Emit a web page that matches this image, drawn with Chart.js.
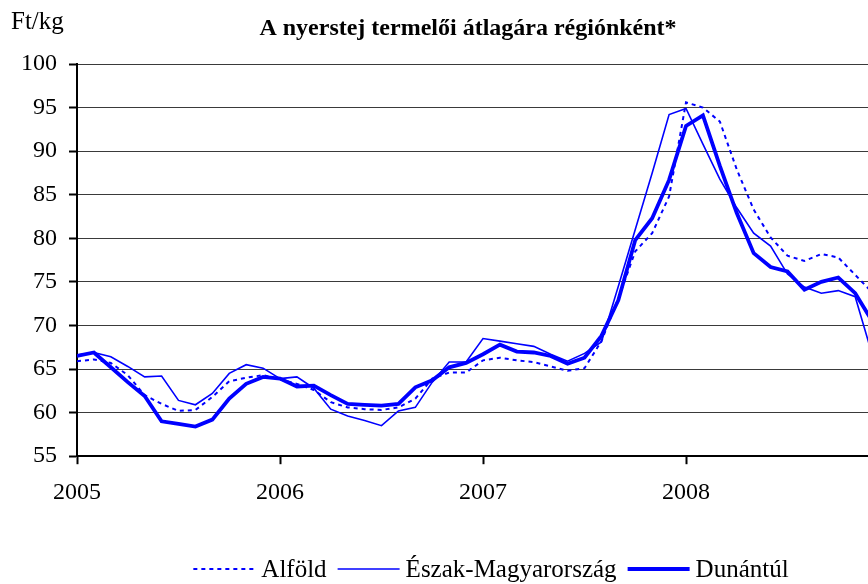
<!DOCTYPE html>
<html>
<head>
<meta charset="utf-8">
<script src="https://cdn.jsdelivr.net/npm/chart.js@4/dist/chart.umd.min.js"></script>
<style>
  html, body { margin: 0; padding: 0; background: #fff; overflow: hidden; }
  #wrap { width: 980px; height: 584px; }
</style>
</head>
<body>
<div id="wrap"><canvas id="milkChart" width="980" height="584"></canvas></div>
<script>
/* ─── Data (monthly, Jan 2005 – Dec 2008) ─────────────────────────────────── */
const yearLabels = ['2005', '2006', '2007', '2008'];
const seriesNames = ['Alföld', 'Észak-Magyarország', 'Dunántúl'];

const alfold = [
  65.9, 66.1, 65.7, 64.3, 62.0, 61.0, 60.2, 60.3, 61.8, 63.6, 64.0, 64.3,
  63.8, 63.3, 62.6, 61.2, 60.6, 60.4, 60.3, 60.6, 61.6, 63.9, 64.6, 64.6,
  66.0, 66.3, 66.0, 65.8, 65.3, 64.8, 65.1, 68.2, 73.1, 78.5, 80.6, 84.8,
  95.6, 95.0, 93.4, 87.9, 83.3, 80.1, 78.0, 77.4, 78.2, 77.8, 75.8, 73.8
];
const eszak = [
  66.6, 66.9, 66.4, 65.3, 64.1, 64.2, 61.4, 60.9, 62.2, 64.5, 65.5, 65.1,
  63.9, 64.1, 62.8, 60.4, 59.6, 59.1, 58.5, 60.2, 60.6, 63.5, 65.8, 65.8,
  68.5, 68.2, 67.9, 67.6, 66.7, 65.9, 66.8, 68.1, 74.5, 81.0, 87.5, 94.2,
  94.9, 90.8, 86.8, 83.5, 80.6, 79.1, 75.9, 74.4, 73.7, 74.0, 73.3, 66.7
];
const dunantul = [
  66.5, 66.9, 65.2, 63.5, 61.9, 59.0, 58.7, 58.4, 59.2, 61.6, 63.3, 64.1,
  63.9, 63.0, 63.1, 62.0, 61.0, 60.9, 60.8, 61.0, 62.9, 63.7, 65.2, 65.7,
  66.7, 67.8, 67.0, 66.9, 66.5, 65.6, 66.3, 68.8, 72.9, 79.8, 82.3, 86.7,
  92.9, 94.1, 88.3, 82.9, 78.3, 76.7, 76.2, 74.1, 75.0, 75.5, 73.7, 70.5
];

const yMin = 55, yMax = 100, yStep = 5;
const chartTitle = 'A nyerstej termelői átlagára régiónként*';
const unitLabel = 'Ft/kg';

/* ─── Helpers ─────────────────────────────────────────────────────────────── */
const toPoints = arr => arr.map((v, i) => ({ x: i, y: v }));
const serif = '"Liberation Serif", "Times New Roman", serif';
const blue = '#0000ff';

/* ─── Title, unit and legend drawn on top ─────────────────────────────────── */
const textPlugin = {
  id: 'textPlugin',
  afterDraw(chart) {
    const ctx = chart.ctx;
    ctx.save();
    ctx.fillStyle = '#000';
    ctx.textBaseline = 'middle';

    ctx.font = 'bold 24px ' + serif;
    ctx.textAlign = 'center';
    ctx.fillText(chartTitle, 468, 29);

    ctx.font = '25px ' + serif;
    ctx.textAlign = 'left';
    ctx.fillText(unitLabel, 11, 22);

    // legend
    const lineLen = 62, gap = 6, itemGap = 11;
    ctx.font = '25px ' + serif;
    const items = chart.data.datasets.map(ds => ({
      ds, w: lineLen + gap + ctx.measureText(ds.label).width
    }));
    const total = items.reduce((s, it) => s + it.w, 0) + itemGap * (items.length - 1);
    let x = 491 - total / 2;
    const y = 569;
    items.forEach(it => {
      ctx.beginPath();
      ctx.strokeStyle = it.ds.borderColor;
      ctx.lineWidth = it.ds.borderWidth;
      ctx.setLineDash(it.ds.borderDash || []);
      ctx.moveTo(x, y);
      ctx.lineTo(x + lineLen, y);
      ctx.stroke();
      ctx.setLineDash([]);
      ctx.fillText(it.ds.label, x + lineLen + gap, y + 1);
      x += it.w + itemGap;
    });
    ctx.restore();
  }
};

/* ─── Chart ───────────────────────────────────────────────────────────────── */
new Chart(document.getElementById('milkChart'), {
  type: 'line',
  data: {
    datasets: [
      {
        label: seriesNames[0],
        data: toPoints(alfold),
        borderColor: blue,
        borderWidth: 2,
        borderDash: [4, 4],
        pointRadius: 0,
        tension: 0
      },
      {
        label: seriesNames[1],
        data: toPoints(eszak),
        borderColor: blue,
        borderWidth: 1.6,
        pointRadius: 0,
        tension: 0
      },
      {
        label: seriesNames[2],
        data: toPoints(dunantul),
        borderColor: blue,
        borderWidth: 3.8,
        pointRadius: 0,
        tension: 0
      }
    ]
  },
  options: {
    responsive: false,
    animation: false,
    layout: { padding: { top: 64, bottom: 63, left: 0, right: 0 } },
    plugins: {
      legend: { display: false },
      title: { display: false },
      tooltip: { enabled: false }
    },
    scales: {
      x: {
        type: 'linear',
        min: 0,
        max: 903 / 16.917,
        afterBuildTicks: scale => {
          scale.ticks = yearLabels.map((_, i) => ({ value: i * 12 }));
        },
        ticks: {
          autoSkip: false,
          maxRotation: 0,
          padding: 14,
          color: '#000',
          font: { family: serif, size: 24 },
          callback: val => yearLabels[val / 12]
        },
        grid: { drawOnChartArea: false, drawTicks: true, tickLength: 8, tickColor: '#000', tickWidth: 2 },
        border: { display: true, color: '#000', width: 2 }
      },
      y: {
        min: yMin,
        max: yMax,
        afterFit: scale => { scale.width = 77; },
        ticks: {
          stepSize: yStep,
          padding: 12,
          color: '#000',
          font: { family: serif, size: 24 }
        },
        grid: { color: '#3a3a3a', lineWidth: 1, tickLength: 8, tickColor: '#000', tickWidth: 2 },
        border: { display: true, color: '#000', width: 2 }
      }
    }
  },
  plugins: [textPlugin]
});
</script>
</body>
</html>
